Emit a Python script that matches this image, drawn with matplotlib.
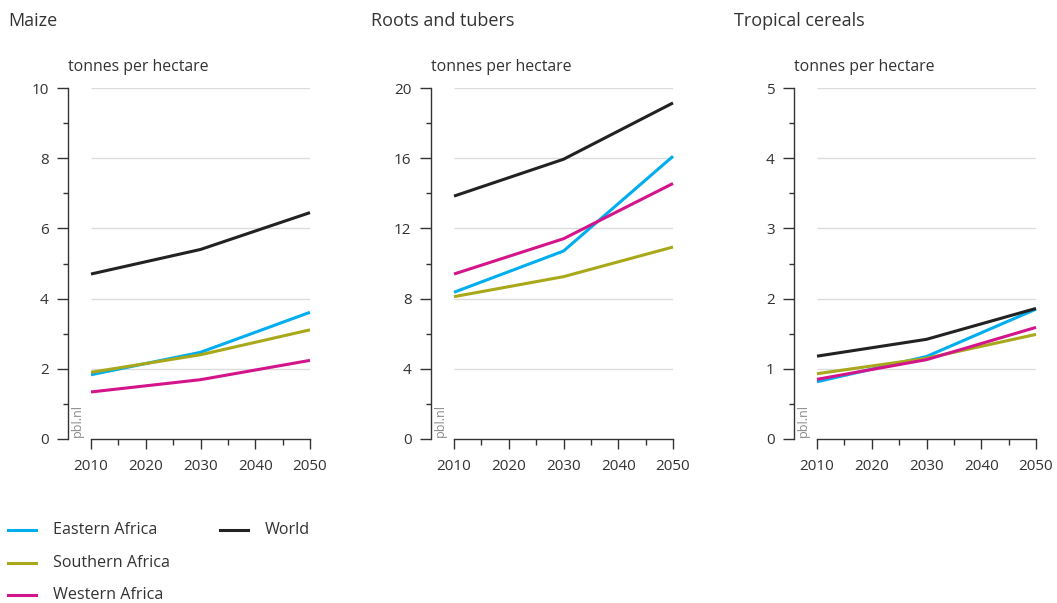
import matplotlib
matplotlib.use("Agg")
import matplotlib.pyplot as plt
from matplotlib.lines import Line2D
from matplotlib.ticker import MultipleLocator

plt.rcParams['font.family'] = ['Open Sans', 'DejaVu Sans']

years = [2010, 2030, 2050]
series_names = ["Eastern Africa", "Southern Africa", "Western Africa", "World"]
colors = {"Eastern Africa": "#00aeef", "Southern Africa": "#a8a81a",
          "Western Africa": "#d4148a", "World": "#222222"}

maize = {
    "Eastern Africa": [1.83, 2.47, 3.61],
    "Southern Africa": [1.90, 2.40, 3.11],
    "Western Africa": [1.34, 1.69, 2.24],
    "World": [4.70, 5.40, 6.45],
}
roots = {
    "Eastern Africa": [8.36, 10.71, 16.11],
    "Southern Africa": [8.11, 9.25, 10.94],
    "Western Africa": [9.40, 11.41, 14.56],
    "World": [13.84, 15.94, 19.15],
}
tropical = {
    "Eastern Africa": [0.815, 1.175, 1.85],
    "Southern Africa": [0.93, 1.15, 1.49],
    "Western Africa": [0.85, 1.13, 1.59],
    "World": [1.18, 1.42, 1.86],
}

panels = [
    ("Maize", maize, 10, 2),
    ("Roots and tubers", roots, 20, 4),
    ("Tropical cereals", tropical, 5, 1),
]
xticks = [2010, 2020, 2030, 2040, 2050]

W, H = 1057, 603
fig = plt.figure(figsize=(W / 100, H / 100), dpi=100)

spine_px = [68, 431, 794]
x2010_px = [91, 454, 817]
x2050_px = [310, 673, 1036]
y0_px, ytop_px = 439, 88
txt = "#333333"

for i, (title, data, ymax, ystep) in enumerate(panels):
    left = spine_px[i] / W
    width = (x2050_px[i] - spine_px[i]) / W
    ax = fig.add_axes([left, (H - y0_px) / H, width, (y0_px - ytop_px) / H])
    pxyr = (x2050_px[i] - x2010_px[i]) / 40.0
    xmin = 2010 - (x2010_px[i] - spine_px[i]) / pxyr
    ax.set_xlim(xmin, 2050)
    ax.set_ylim(0, ymax)

    yt = list(range(0, ymax + 1, ystep))
    for y in yt[1:]:
        ax.hlines(y, 2010, 2050, color="#dcdcdc", lw=1.0, zorder=1)

    for name in series_names:
        ax.plot(years, data[name], color=colors[name], lw=2.2,
                solid_capstyle="butt", clip_on=False, zorder=3)

    for s in ["top", "right"]:
        ax.spines[s].set_visible(False)
    ax.spines["left"].set_color(txt)
    ax.spines["bottom"].set_color(txt)
    ax.spines["left"].set_linewidth(1.0)
    ax.spines["bottom"].set_linewidth(1.0)
    ax.spines["bottom"].set_bounds(2010, 2050)

    ax.set_yticks(yt)
    ax.set_yticklabels([str(v) for v in yt])
    ax.yaxis.set_minor_locator(MultipleLocator(ystep / 2))
    ax.set_xticks(xticks)
    ax.set_xticklabels([str(v) for v in xticks])
    ax.xaxis.set_minor_locator(MultipleLocator(5))
    ax.tick_params(axis="y", which="major", length=8, width=1.0, color=txt,
                   labelsize=11, labelcolor=txt, pad=6)
    ax.tick_params(axis="y", which="minor", length=3.5, width=1.0, color=txt)
    ax.tick_params(axis="x", which="major", length=7.5, width=1.0, color=txt,
                   labelsize=11, labelcolor=txt, pad=7)
    ax.tick_params(axis="x", which="minor", length=4, width=1.0, color=txt)
    ax.set_facecolor("none")

    fig.text((spine_px[i] - 60) / W, 1 - 21 / H, title, fontsize=13,
             color=txt, ha="left", va="center")
    fig.text(spine_px[i] / W, 1 - 67 / H, "tonnes per hectare", fontsize=11.4,
             color=txt, ha="left", va="center")
    fig.text((spine_px[i] + 9) / W, 1 - 437 / H, "pbl.nl", fontsize=9,
             color="#8a8a8a", rotation=90, ha="center", va="bottom")

# legend
rows = [530, 563, 595]
col1 = series_names[:3]
for name, ry in zip(col1, rows):
    fig.add_artist(Line2D([8 / W, 36 / W], [1 - ry / H, 1 - ry / H],
                          color=colors[name], lw=2.2, transform=fig.transFigure))
    fig.text(53 / W, 1 - ry / H, name, fontsize=11.6, color=txt,
             ha="left", va="center")
fig.add_artist(Line2D([220 / W, 248 / W], [1 - rows[0] / H, 1 - rows[0] / H],
                      color=colors["World"], lw=2.2, transform=fig.transFigure))
fig.text(265 / W, 1 - rows[0] / H, "World", fontsize=11.6, color=txt,
         ha="left", va="center")

fig.savefig("out.png", dpi=100, facecolor="white")
